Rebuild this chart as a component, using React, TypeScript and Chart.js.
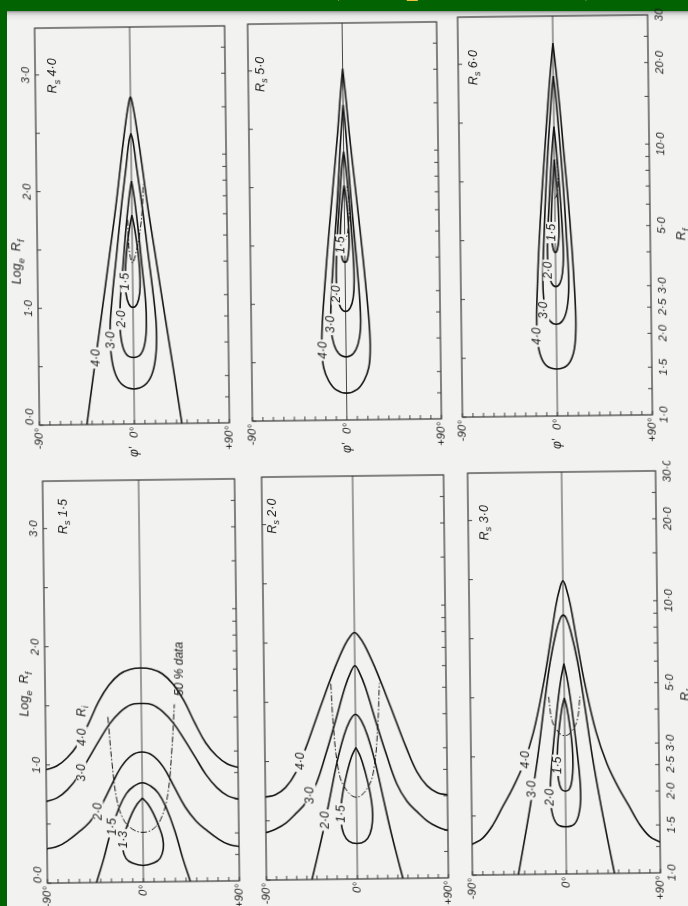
import React, { useEffect, useRef } from 'react';
import { Chart, registerables } from 'chart.js';

Chart.register(...registerables);

type P = [number, number]; // [phi' in degrees, log_e Rf]

// ---------- contour data (phi', ln Rf) ----------
// Rs = 4.0
const rs40_c40: P[] = [[-45, 0], [-38, 0.44], [-30, 0.93], [-22, 1.43], [-15, 1.87], [-9, 2.3], [-4.5, 2.6], [-1.5, 2.76], [0, 2.8], [1.5, 2.76], [4.5, 2.6], [9, 2.3], [15, 1.87], [22, 1.43], [30, 0.93], [38, 0.44], [45, 0]];
const rs40_c30: P[] = [[0, 2.49], [-2, 2.42], [-5, 2.2], [-10, 1.85], [-15, 1.45], [-20, 1.05], [-22, 0.8], [-21, 0.58], [-17, 0.42], [-10, 0.33], [0, 0.3], [10, 0.33], [17, 0.42], [21, 0.58], [22, 0.8], [20, 1.05], [15, 1.45], [10, 1.85], [5, 2.2], [2, 2.42], [0, 2.49]];
const rs40_c20: P[] = [[0, 2.08], [-1, 2.03], [-3, 1.9], [-6, 1.65], [-9, 1.35], [-12, 1.05], [-12.5, 0.85], [-11, 0.7], [-7, 0.6], [0, 0.57], [7, 0.6], [11, 0.7], [12.5, 0.85], [12, 1.05], [9, 1.35], [6, 1.65], [3, 1.9], [1, 2.03], [0, 2.08]];
const rs40_c15: P[] = [[0, 1.79], [-2, 1.7], [-4, 1.58], [-6, 1.42], [-7, 1.25], [-6.5, 1.12], [-4, 1.03], [0, 1], [4, 1.03], [6.5, 1.12], [7, 1.25], [6, 1.42], [4, 1.58], [2, 1.7], [0, 1.79]];
const rs40_dd: P[] = [[-4, 1.75], [-3, 1.5], [0, 1.38], [3, 1.45], [7, 1.62], [10, 1.85], [11, 2.05]];

// Rs = 5.0
const rs50_c40: P[] = [[0, 3.01], [-2.5, 2.78], [-5.5, 2.46], [-10, 2.05], [-15, 1.6], [-20, 1.1], [-22.5, 0.8], [-23, 0.6], [-21.5, 0.45], [-17, 0.34], [-10, 0.26], [0, 0.23], [10, 0.26], [17, 0.34], [21.5, 0.45], [23, 0.6], [22.5, 0.8], [20, 1.1], [15, 1.6], [10, 2.05], [5.5, 2.46], [2.5, 2.78], [0, 3.01]];
const rs50_c30: P[] = [[0, 2.7], [-1.5, 2.55], [-3.5, 2.3], [-6, 1.95], [-9, 1.6], [-12, 1.25], [-14, 0.95], [-14, 0.78], [-11.5, 0.65], [-7, 0.57], [0, 0.54], [7, 0.57], [11.5, 0.65], [14, 0.78], [14, 0.95], [12, 1.25], [9, 1.6], [6, 1.95], [3.5, 2.3], [1.5, 2.55], [0, 2.7]];
const rs50_c20: P[] = [[0, 2.3], [-1.5, 2.2], [-3.5, 2.0], [-6, 1.7], [-8, 1.4], [-8.5, 1.2], [-7.5, 1.05], [-4.5, 0.96], [0, 0.93], [4.5, 0.96], [7.5, 1.05], [8.5, 1.2], [8, 1.4], [6, 1.7], [3.5, 2.0], [1.5, 2.2], [0, 2.3]];
const rs50_c15: P[] = [[0, 2.01], [-1.5, 1.92], [-3, 1.78], [-4, 1.62], [-4, 1.48], [-2.5, 1.38], [0, 1.35], [2.5, 1.38], [4, 1.48], [4, 1.62], [3, 1.78], [1.5, 1.92], [0, 2.01]];
const rs50_dd: P[] = [[-2, 1.57], [0, 1.54], [2, 1.57], [4, 1.68], [4.5, 1.85], [3, 2.0]];

// Rs = 6.0
const rs60_c40: P[] = [[0, 3.17], [-2.5, 2.95], [-5.5, 2.65], [-9, 2.25], [-12.5, 1.85], [-15.5, 1.45], [-17.5, 1.1], [-18.5, 0.85], [-18, 0.66], [-15.5, 0.52], [-10, 0.43], [0, 0.4], [10, 0.43], [15.5, 0.52], [18, 0.66], [18.5, 0.85], [17.5, 1.1], [15.5, 1.45], [12.5, 1.85], [9, 2.25], [5.5, 2.65], [2.5, 2.95], [0, 3.17]];
const rs60_c30: P[] = [[0, 2.89], [-1.5, 2.77], [-3.5, 2.55], [-6, 2.25], [-8.5, 1.9], [-10.5, 1.55], [-12, 1.25], [-12, 1.05], [-10, 0.9], [-6, 0.81], [0, 0.78], [6, 0.81], [10, 0.9], [12, 1.05], [12, 1.25], [10.5, 1.55], [8.5, 1.9], [6, 2.25], [3.5, 2.55], [1.5, 2.77], [0, 2.89]];
const rs60_c20: P[] = [[0, 2.46], [-1.5, 2.32], [-3.5, 2.08], [-5.5, 1.8], [-7, 1.55], [-7.5, 1.36], [-6.5, 1.22], [-4, 1.13], [0, 1.1], [4, 1.13], [6.5, 1.22], [7.5, 1.36], [7, 1.55], [5.5, 1.8], [3.5, 2.08], [1.5, 2.32], [0, 2.46]];
const rs60_c15: P[] = [[0, 2.18], [-1, 2.07], [-2.5, 1.88], [-3.5, 1.68], [-3.5, 1.52], [-2, 1.42], [0, 1.39], [2, 1.42], [3.5, 1.52], [3.5, 1.68], [2.5, 1.88], [1, 2.07], [0, 2.18]];
const rs60_dd: P[] = [[0, 1.85], [1.5, 1.87], [3, 1.95], [3.2, 2.08], [2, 2.2]];

// Rs = 1.5
const rs15_c40: P[] = [[-90, 0.96], [-80, 0.99], [-70, 1.06], [-60, 1.17], [-50, 1.34], [-40, 1.53], [-30, 1.67], [-20, 1.76], [-10, 1.8], [0, 1.81], [10, 1.8], [20, 1.76], [30, 1.67], [40, 1.53], [50, 1.34], [60, 1.17], [70, 1.06], [80, 0.99], [90, 0.96]];
const rs15_c30: P[] = [[-90, 0.69], [-80, 0.72], [-70, 0.79], [-60, 0.9], [-50, 1.05], [-40, 1.2], [-30, 1.34], [-20, 1.44], [-10, 1.5], [0, 1.51], [10, 1.5], [20, 1.44], [30, 1.34], [40, 1.2], [50, 1.05], [60, 0.9], [70, 0.79], [80, 0.72], [90, 0.69]];
const rs15_c20: P[] = [[-90, 0.29], [-80, 0.31], [-70, 0.36], [-60, 0.43], [-50, 0.51], [-40, 0.63], [-30, 0.8], [-20, 0.97], [-10, 1.07], [0, 1.1], [10, 1.07], [20, 0.97], [30, 0.8], [40, 0.63], [50, 0.51], [60, 0.43], [70, 0.36], [80, 0.31], [90, 0.29]];
const rs15_c15: P[] = [[-44, 0], [-37, 0.2], [-30, 0.43], [-22, 0.63], [-15, 0.75], [-8, 0.81], [0, 0.84], [8, 0.81], [15, 0.75], [22, 0.63], [30, 0.43], [37, 0.2], [44, 0]];
const rs15_c13: P[] = [[0, 0.71], [-5, 0.66], [-10, 0.58], [-15, 0.47], [-18.5, 0.37], [-19, 0.28], [-16, 0.2], [-10, 0.16], [0, 0.14], [10, 0.16], [16, 0.2], [19, 0.28], [18.5, 0.37], [15, 0.47], [10, 0.58], [5, 0.66], [0, 0.71]];
const rs15_dd: P[] = [[-31.5, 1.4], [-28, 1.0], [-24, 0.7], [-18, 0.53], [-10, 0.45], [0, 0.42], [10, 0.45], [18, 0.55], [24, 0.75], [28, 1.1], [31, 1.5]];

// Rs = 2.0
const rs20_c40: P[] = [[-90, 0.7], [-80, 0.72], [-70, 0.78], [-60, 0.9], [-50, 1.1], [-40, 1.33], [-30, 1.56], [-20, 1.78], [-10, 1.97], [-4, 2.05], [0, 2.08], [4, 2.05], [10, 1.97], [20, 1.78], [30, 1.56], [40, 1.33], [50, 1.1], [60, 0.9], [70, 0.78], [80, 0.72], [90, 0.7]];
const rs20_c30: P[] = [[-90, 0.4], [-80, 0.43], [-70, 0.48], [-60, 0.56], [-50, 0.65], [-40, 0.8], [-30, 1.05], [-20, 1.33], [-10, 1.62], [-4, 1.75], [0, 1.8], [4, 1.75], [10, 1.62], [20, 1.33], [30, 1.05], [40, 0.8], [50, 0.65], [60, 0.56], [70, 0.48], [80, 0.43], [90, 0.4]];
const rs20_c20: P[] = [[-45, 0], [-40, 0.17], [-33, 0.42], [-26, 0.7], [-19, 0.98], [-12, 1.2], [-6, 1.33], [0, 1.39], [6, 1.33], [12, 1.2], [19, 0.98], [26, 0.7], [33, 0.42], [40, 0.17], [45, 0]];
const rs20_c15: P[] = [[0, 1.11], [-4.5, 1.03], [-9, 0.9], [-13, 0.75], [-15.5, 0.6], [-15.5, 0.48], [-13, 0.38], [-8, 0.32], [0, 0.3], [8, 0.32], [13, 0.38], [15.5, 0.48], [15.5, 0.6], [13, 0.75], [9, 0.9], [4.5, 1.03], [0, 1.11]];
const rs20_dd: P[] = [[-24, 1.65], [-22, 1.3], [-18, 0.95], [-12, 0.78], [0, 0.69], [12, 0.78], [18, 0.95], [22, 1.3], [24, 1.65]];

// Rs = 3.0
const rs30_c40: P[] = [[-90, 0.26], [-80, 0.31], [-70, 0.42], [-60, 0.58], [-50, 0.74], [-40, 0.93], [-30, 1.2], [-20, 1.6], [-13, 1.95], [-7, 2.27], [-3, 2.42], [0, 2.48], [3, 2.42], [7, 2.27], [13, 1.95], [20, 1.6], [30, 1.2], [40, 0.93], [50, 0.74], [60, 0.58], [70, 0.42], [80, 0.31], [90, 0.26]];
const rs30_c30: P[] = [[-46, 0], [-40, 0.28], [-33, 0.62], [-26, 1.0], [-19, 1.45], [-13, 1.8], [-7, 2.05], [-3, 2.16], [0, 2.19], [3, 2.16], [7, 2.05], [13, 1.8], [19, 1.45], [26, 1.0], [33, 0.62], [40, 0.28], [46, 0]];
const rs30_c20: P[] = [[0, 1.78], [-3, 1.65], [-6, 1.47], [-9, 1.25], [-12, 1.0], [-14, 0.8], [-14.5, 0.63], [-12.5, 0.5], [-8, 0.42], [0, 0.4], [8, 0.42], [12.5, 0.5], [14.5, 0.63], [14, 0.8], [12, 1.0], [9, 1.25], [6, 1.47], [3, 1.65], [0, 1.78]];
const rs30_c15: P[] = [[0, 1.49], [-2.5, 1.4], [-5, 1.25], [-7, 1.08], [-7.5, 0.92], [-6.5, 0.8], [-4, 0.72], [0, 0.7], [4, 0.72], [6.5, 0.8], [7.5, 0.92], [7, 1.08], [5, 1.25], [2.5, 1.4], [0, 1.49]];
const rs30_dd: P[] = [[-15, 1.5], [-12, 1.3], [-6, 1.2], [0, 1.17], [6, 1.2], [12, 1.3], [15, 1.5]];

// ---------- contour label text and anchors (phi', ln Rf) ----------
type L = { t: string; phi: number; ln: number };
const rs40Labels: L[] = [{ t: '4·0', phi: -35, ln: 0.57 }, { t: '3·0', phi: -21, ln: 0.72 }, { t: '2·0', phi: -11, ln: 0.9 }, { t: '1·5', phi: -6.5, ln: 1.22 }];
const rs50Labels: L[] = [{ t: '4·0', phi: -22, ln: 0.6 }, { t: '3·0', phi: -14, ln: 0.82 }, { t: '2·0', phi: -8.3, ln: 1.08 }, { t: '1·5', phi: -4, ln: 1.5 }];
const rs60Labels: L[] = [{ t: '4·0', phi: -18, ln: 0.68 }, { t: '3·0', phi: -11.5, ln: 0.9 }, { t: '2·0', phi: -7, ln: 1.24 }, { t: '1·5', phi: -3.5, ln: 1.56 }];
const rs15Labels: L[] = [{ t: '4·0', phi: -56, ln: 1.23 }, { t: '3·0', phi: -57, ln: 0.93 }, { t: '2·0', phi: -42, ln: 0.6 }, { t: '1·5', phi: -28, ln: 0.47 }, { t: '1·3', phi: -18, ln: 0.36 }];
const rs20Labels: L[] = [{ t: '4·0', phi: -55, ln: 1.0 }, { t: '3·0', phi: -45.5, ln: 0.71 }, { t: '2·0', phi: -31, ln: 0.5 }, { t: '1·5', phi: -15.5, ln: 0.55 }];
const rs30Labels: L[] = [{ t: '4·0', phi: -38, ln: 0.97 }, { t: '3·0', phi: -31.5, ln: 0.72 }, { t: '2·0', phi: -14.3, ln: 0.65 }, { t: '1·5', phi: -7.3, ln: 0.92 }];

// ---------- axes ----------
const PHI_TICKS = [-90, -80, -70, -60, -50, -40, -30, -20, -10, 0, 10, 20, 30, 40, 50, 60, 70, 80, 90];
const PHI_LABEL_VALUES = [-90, 0, 90];
const PHI_LABELS = ['-90°', '0°', '+90°'];
const LN_TICKS = [0, 0.5, 1, 1.5, 2, 2.5, 3];
const LN_LABEL_VALUES = [0, 1, 2, 3];
const LN_LABELS = ['0·0', '1·0', '2·0', '3·0'];
const RF_TICKS = [1.25, 1.5, 2, 2.5, 3, 4, 5, 6, 7, 8, 9, 10, 15, 20, 25];
const RF_LABEL_VALUES = [1, 1.5, 2, 2.5, 3, 5, 10, 20, 30];
const RF_LABELS_TOP = ['1·0', '1·5', '2·0', '2·5', '3·0', '5·0', '10·0', '20·0', '30'];
const RF_LABELS_BOTTOM = ['1·0', '1·5', '2·0', '2·5', '3·0', '5·0', '10·0', '20·0', '30·0'];
const RF_MAX = 30;

// ---------- styles ----------
const GREEN = '#026302';
const PAGE = '#f2f2f0';
const TXT = '#1c1c1c';
const INK = '#141414';
const FONT = '"Liberation Sans", "DejaVu Sans", sans-serif';
const DASH = [6, 2, 1.5, 2];
const PAD = { l: 40, r: 42, t: 10, b: 40 };
const TILT = -0.7;

type Part = { t: string; sub?: boolean };
type Extra = { parts: Part[]; phi: number; ln: number; align: 'left' | 'center' | 'right' };
interface PanelCfg {
  box: { x: number; y: number; w: number; h: number };
  series: { pts: P[]; dash?: boolean }[];
  labels: L[];
  rs: string;
  rsPos: [number, number];
  logTitle?: number;
  rfLabels?: string[];
  rfTitle?: [number, number];
  phiTitle: boolean;
  extras?: Extra[];
}

const font = (s: number) => `italic ${s}px ${FONT}`;

function rotText(ctx: CanvasRenderingContext2D, x: number, y: number, parts: Part[], size: number,
  align: 'left' | 'center' | 'right', base: CanvasTextBaseline, bg?: string) {
  ctx.save();
  ctx.translate(x, y);
  ctx.rotate(-Math.PI / 2);
  const sub = size * 0.75;
  let w = 0;
  const ws = parts.map((p) => {
    ctx.font = font(p.sub ? sub : size);
    const m = ctx.measureText(p.t).width;
    w += m;
    return m;
  });
  let sx = align === 'left' ? 0 : align === 'center' ? -w / 2 : -w;
  ctx.textAlign = 'left';
  ctx.textBaseline = base;
  if (bg) {
    ctx.fillStyle = bg;
    ctx.fillRect(sx - 2, -size * 0.45, w + 4, size * 0.9);
  }
  ctx.fillStyle = TXT;
  parts.forEach((p, i) => {
    ctx.font = font(p.sub ? sub : size);
    ctx.fillText(p.t, sx, p.sub ? size * 0.32 : 0);
    sx += ws[i];
  });
  ctx.restore();
}

function makeDecor(cfg: PanelCfg) {
  return {
    id: 'decor',
    beforeDatasetsDraw(chart: any) {
      const { ctx, chartArea: a, scales } = chart;
      const sx = scales.x;
      const sy = scales.y;
      ctx.save();
      ctx.strokeStyle = '#262626';
      ctx.lineWidth = 1.1;
      ctx.strokeRect(a.left, a.top, a.right - a.left, a.bottom - a.top);
      const x0 = sx.getPixelForValue(0);
      ctx.lineWidth = 0.9;
      ctx.strokeStyle = '#333';
      ctx.beginPath();
      ctx.moveTo(x0, a.top);
      ctx.lineTo(x0, a.bottom);
      ctx.stroke();
      ctx.beginPath();
      PHI_TICKS.forEach((v) => {
        const px = sx.getPixelForValue(v);
        ctx.moveTo(px, a.bottom);
        ctx.lineTo(px, a.bottom - 4);
      });
      LN_TICKS.forEach((v) => {
        const py = sy.getPixelForValue(v);
        ctx.moveTo(a.left, py);
        ctx.lineTo(a.left + 4, py);
      });
      RF_TICKS.forEach((v) => {
        const py = sy.getPixelForValue(Math.log(v));
        ctx.moveTo(a.right, py);
        ctx.lineTo(a.right - 4, py);
      });
      ctx.stroke();
      ctx.restore();
    },
    afterDatasetsDraw(chart: any) {
      const { ctx, chartArea: a, scales } = chart;
      const sx = scales.x;
      const sy = scales.y;
      // contour value labels (they break the lines)
      cfg.labels.forEach((l) => {
        rotText(ctx, sx.getPixelForValue(l.phi), sy.getPixelForValue(l.ln), [{ t: l.t }], 12, 'center', 'middle', PAGE);
      });
      // Rs label
      const rsParts: Part[] = [{ t: 'R' }, { t: 's', sub: true }, { t: ' ' + cfg.rs }];
      rotText(ctx, sx.getPixelForValue(cfg.rsPos[0]), sy.getPixelForValue(cfg.rsPos[1]), rsParts, 12.5, 'center', 'middle');
      (cfg.extras || []).forEach((e) => {
        rotText(ctx, sx.getPixelForValue(e.phi), sy.getPixelForValue(e.ln), e.parts, 12, e.align, 'middle');
      });
      // phi labels
      PHI_LABEL_VALUES.forEach((v, i) => {
        rotText(ctx, sx.getPixelForValue(v), a.bottom + 3, [{ t: PHI_LABELS[i] }], 11.5, 'right', 'middle');
      });
      if (cfg.phiTitle) {
        rotText(ctx, sx.getPixelForValue(0), a.bottom + 28, [{ t: "φ'" }], 12, 'center', 'middle');
      }
      if (cfg.logTitle !== undefined) {
        LN_LABEL_VALUES.forEach((v, i) => {
          const py = sy.getPixelForValue(v);
          rotText(ctx, a.left - 3, py, [{ t: LN_LABELS[i] }], 11.5, i === 0 ? 'left' : 'center', 'bottom');
        });
        const parts: Part[] = [{ t: 'Log' }, { t: 'e', sub: true }, { t: '  R' }, { t: 'f', sub: true }];
        rotText(ctx, a.left - 17, sy.getPixelForValue(cfg.logTitle), parts, 12.5, 'center', 'alphabetic');
      }
      if (cfg.rfLabels) {
        RF_LABEL_VALUES.forEach((v, i) => {
          const py = sy.getPixelForValue(Math.log(v));
          rotText(ctx, a.right + 6, py, [{ t: cfg.rfLabels![i] }], 11.5, 'center', 'top');
        });
      }
      if (cfg.rfTitle) {
        const parts: Part[] = [{ t: 'R' }, { t: 'f', sub: true }];
        rotText(ctx, a.right + cfg.rfTitle[1], sy.getPixelForValue(cfg.rfTitle[0]), parts, 12.5, 'center', 'alphabetic');
      }
    },
  };
}

const PANELS: PanelCfg[] = [
  {
    box: { x: 37, y: 27, w: 190, h: 397 },
    series: [{ pts: rs40_c40 }, { pts: rs40_c30 }, { pts: rs40_c20 }, { pts: rs40_c15 }, { pts: rs40_dd, dash: true }],
    labels: rs40Labels, rs: '4·0', rsPos: [-73, 2.99], logTitle: 1.4, phiTitle: true,
  },
  {
    box: { x: 250, y: 23, w: 189, h: 397 },
    series: [{ pts: rs50_c40 }, { pts: rs50_c30 }, { pts: rs50_c20 }, { pts: rs50_c15 }, { pts: rs50_dd, dash: true }],
    labels: rs50Labels, rs: '5·0', rsPos: [-78, 2.97], phiTitle: true,
  },
  {
    box: { x: 460, y: 16, w: 190, h: 400 },
    series: [{ pts: rs60_c40 }, { pts: rs60_c30 }, { pts: rs60_c20 }, { pts: rs60_c15 }, { pts: rs60_dd, dash: true }],
    labels: rs60Labels, rs: '6·0', rsPos: [-75, 2.97], rfLabels: RF_LABELS_TOP, rfTitle: [1.53, 35], phiTitle: true,
  },
  {
    box: { x: 45, y: 480, w: 192, h: 402 },
    series: [{ pts: rs15_c40 }, { pts: rs15_c30 }, { pts: rs15_c20 }, { pts: rs15_c15 }, { pts: rs15_c13 }, { pts: rs15_dd, dash: true }],
    labels: rs15Labels, rs: '1·5', rsPos: [-71, 3.1], logTitle: 1.6, phiTitle: false,
    extras: [
      { parts: [{ t: 'R' }, { t: 'i', sub: true }], phi: -56, ln: 1.45, align: 'center' },
      { parts: [{ t: '50 % data' }], phi: 36, ln: 1.57, align: 'left' },
    ],
  },
  {
    box: { x: 264, y: 476, w: 182, h: 403 },
    series: [{ pts: rs20_c40 }, { pts: rs20_c30 }, { pts: rs20_c20 }, { pts: rs20_c15 }, { pts: rs20_dd, dash: true }],
    labels: rs20Labels, rs: '2·0', rsPos: [-80, 3.07], phiTitle: false,
  },
  {
    box: { x: 470, y: 472, w: 188, h: 402 },
    series: [{ pts: rs30_c40 }, { pts: rs30_c30 }, { pts: rs30_c20 }, { pts: rs30_c15 }, { pts: rs30_dd, dash: true }],
    labels: rs30Labels, rs: '3·0', rsPos: [-74, 2.98], rfLabels: RF_LABELS_BOTTOM, rfTitle: [1.5, 31], phiTitle: false,
  },
];

function Panel({ cfg }: { cfg: PanelCfg }) {
  const ref = useRef<HTMLCanvasElement>(null);
  const W = cfg.box.w + PAD.l + PAD.r;
  const H = cfg.box.h + PAD.t + PAD.b;
  useEffect(() => {
    const cv = ref.current;
    if (!cv) return;
    const chart = new Chart(cv, {
      type: 'scatter',
      data: {
        datasets: cfg.series.map((s) => ({
          data: s.pts.map(([x, y]) => ({ x, y })),
          showLine: true,
          borderColor: INK,
          borderWidth: s.dash ? 1 : 1.6,
          borderDash: s.dash ? DASH : [],
          tension: 0.4,
          pointRadius: 0,
          pointHoverRadius: 0,
          fill: false,
        })),
      },
      options: {
        responsive: false,
        maintainAspectRatio: false,
        animation: false,
        devicePixelRatio: 1,
        events: [],
        layout: { padding: { left: PAD.l, right: PAD.r, top: PAD.t, bottom: PAD.b } },
        scales: {
          x: { type: 'linear', min: -90, max: 90, display: false },
          y: { type: 'linear', min: 0, max: Math.log(RF_MAX), display: false },
        },
        plugins: { legend: { display: false }, tooltip: { enabled: false } },
      } as any,
      plugins: [makeDecor(cfg)],
    });
    return () => chart.destroy();
  }, [cfg]);
  return (
    <canvas
      ref={ref}
      width={W}
      height={H}
      style={{
        position: 'absolute',
        left: cfg.box.x - PAD.l,
        top: cfg.box.y - PAD.t,
        width: W,
        height: H,
        transform: `rotate(${TILT}deg)`,
        transformOrigin: `${PAD.l + cfg.box.w / 2}px ${PAD.t + cfg.box.h / 2}px`,
      }}
    />
  );
}

const glyph = (left: number): React.CSSProperties => ({
  position: 'absolute', left, top: -52, fontFamily: '"Liberation Serif", serif', fontSize: 50,
  lineHeight: '50px', color: '#f4c03c', whiteSpace: 'pre',
});

export default function App() {
  return (
    <div style={{ position: 'absolute', left: 0, top: 0, width: 688, height: 906, overflow: 'hidden', background: GREEN }}>
      <span style={glyph(324)}>(</span>
      <span style={glyph(406)}>p</span>
      <span style={glyph(584)}>)</span>
      <div
        style={{
          position: 'absolute', left: 7, top: 11, right: 0, bottom: 0,
          background: `linear-gradient(#8e8e8e 0px, #c9c9c9 2px, #e6e6e6 5px, ${PAGE} 10px)`,
        }}
      />
      {PANELS.map((p, i) => (
        <Panel key={i} cfg={p} />
      ))}
    </div>
  );
}
